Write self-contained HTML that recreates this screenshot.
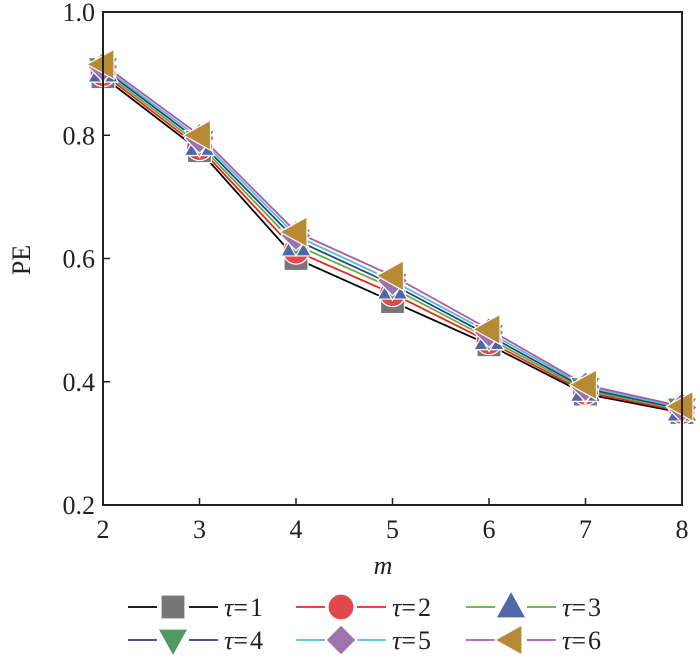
<!DOCTYPE html>
<html><head><meta charset="utf-8"><style>
body{margin:0;background:#fff}
svg{display:block;font-family:"Liberation Serif","Times New Roman",serif}
</style></head><body>
<svg id="chart" width="700" height="660" viewBox="0 0 700 660" xmlns="http://www.w3.org/2000/svg">
<g id="plot"></g>
<g id="axes"></g>
<g id="legend"></g>
</svg>
<script>
const categories = [2,3,4,5,6,7,8];
const yTicks = [0.2,0.4,0.6,0.8,1.0];
const seriesNames = ["τ=1","τ=2","τ=3","τ=4","τ=5","τ=6"];
const tau1 = [0.895,0.775,0.600,0.530,0.460,0.380,0.350];
const tau2 = [0.900,0.780,0.612,0.543,0.465,0.383,0.352];
const tau3 = [0.904,0.785,0.622,0.552,0.470,0.386,0.354];
const tau4 = [0.908,0.790,0.630,0.558,0.475,0.389,0.356];
const tau5 = [0.911,0.795,0.637,0.564,0.480,0.392,0.358];
const tau6 = [0.915,0.800,0.643,0.572,0.485,0.395,0.360];
const seriesValues = [tau1,tau2,tau3,tau4,tau5,tau6];
const lineColors = ["#000000","#e8262b","#5cb531","#2e3b8f","#4cc3c8","#b156a8"];
const markerColors = ["#777777","#e0484c","#4f69a8","#4f9a62","#9a74aa","#b98a35"];
const markerShapes = ["square","circle","up","down","diamond","left"];

const NS="http://www.w3.org/2000/svg";
const X0=103,X1=682,Y0=505,Y1=12;
const x=v=>X0+(v-2)/(8-2)*(X1-X0);
const y=v=>Y0-(v-0.2)/(1.0-0.2)*(Y0-Y1);
function mk(tag,attrs,parent){const e=document.createElementNS(NS,tag);for(const k in attrs)e.setAttribute(k,attrs[k]);parent.appendChild(e);return e;}
function marker(shape,cx,cy,color,parent){
  const s=15;let e;
  const st={fill:color,stroke:"#fff","stroke-width":1.2};
  if(shape==="square")e=mk("rect",Object.assign({x:cx-12,y:cy-12,width:24,height:24},st),parent);
  else if(shape==="circle")e=mk("circle",Object.assign({cx:cx,cy:cy,r:13},st),parent);
  else{let p;
    if(shape==="up")p=[[cx,cy-s-1],[cx+s,cy+s-4],[cx-s,cy+s-4]];
    else if(shape==="down")p=[[cx,cy+s+1],[cx+s,cy-s+4],[cx-s,cy-s+4]];
    else if(shape==="diamond")p=[[cx,cy-s],[cx+s,cy],[cx,cy+s],[cx-s,cy]];
    else p=[[cx-s-1,cy],[cx+s-4,cy-s],[cx+s-4,cy+s]];
    e=mk("polygon",Object.assign({points:p.map(q=>q.join(",")).join(" ")},st),parent);}
  return e;
}
const plot=document.getElementById("plot");
seriesValues.forEach((vals,i)=>{
  const pl=mk("polyline",{points:vals.map((v,j)=>x(categories[j])+","+y(v)).join(" "),fill:"none",stroke:lineColors[i],"stroke-width":1.8},plot);
  
  
});
seriesValues.forEach((vals,i)=>{
  vals.forEach((v,j)=>{
    const m=marker(markerShapes[i],x(categories[j]),y(v),markerColors[i],plot);
    
    
  });
});
const axes=document.getElementById("axes");
const frame=mk("rect",{x:X0,y:Y1,width:X1-X0,height:Y0-Y1,fill:"none",stroke:"#222","stroke-width":2},axes);


categories.forEach(c=>{
  mk("line",{x1:x(c),x2:x(c),y1:Y0,y2:Y0-7,stroke:"#222","stroke-width":1.5},axes);
  const t=mk("text",{x:x(c),y:Y0+33,"text-anchor":"middle","font-size":26,fill:"#222"},axes);
  t.textContent=c;
  
  
});
yTicks.forEach(v=>{
  mk("line",{x1:X0,x2:X0+7,y1:y(v),y2:y(v),stroke:"#222","stroke-width":1.5},axes);
  const t=mk("text",{x:X0-8,y:y(v)+9,"text-anchor":"end","font-size":26,fill:"#222"},axes);
  t.textContent=v.toFixed(1);
  
  
});
const yt=mk("text",{x:0,y:0,transform:"translate(30,260) rotate(-90)","text-anchor":"middle","font-size":26,fill:"#222"},axes);
yt.textContent="PE";


const xt=mk("text",{x:383,y:574,"text-anchor":"middle","font-size":26,"font-style":"italic",fill:"#222"},axes);
xt.textContent="m";


const legend=document.getElementById("legend");
const colX=[128,296,466], rowY=[607,640];
seriesNames.forEach((n,i)=>{
  const lx=colX[i%3], ly=rowY[Math.floor(i/3)];
  const g=mk("g",{},legend);
  
  
  mk("line",{x1:lx,x2:lx+29,y1:ly,y2:ly,stroke:lineColors[i],"stroke-width":1.8},g);
  mk("line",{x1:lx+61,x2:lx+90,y1:ly,y2:ly,stroke:lineColors[i],"stroke-width":1.8},g);
  marker(markerShapes[i],lx+45,ly,markerColors[i],g);
  const t=mk("text",{x:lx+96,y:ly+9,"font-size":26,fill:"#222"},g);
  t.innerHTML='<tspan font-style="italic">τ</tspan>=<tspan dx="2">'+(i+1)+'</tspan>';
});
</script>
</body></html>
